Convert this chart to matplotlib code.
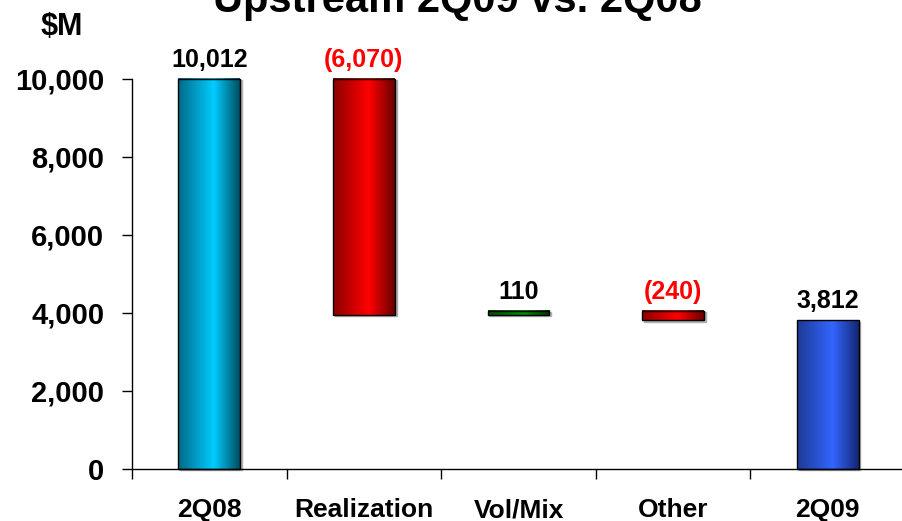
import matplotlib.pyplot as plt
import numpy as np
from matplotlib.colors import LinearSegmentedColormap
from matplotlib.patches import Rectangle

plt.rcParams["font.family"] = ["Liberation Sans", "DejaVu Sans"]
plt.rcParams["font.weight"] = "bold"

categories = ["2Q08", "Realization", "Vol/Mix", "Other", "2Q09"]
values = [10012, -6070, 110, -240, 3812]
is_total = [True, False, False, False, True]
yticks = [0, 2000, 4000, 6000, 8000, 10000]

# left edge, bright centre, right edge
COLORS = {
    "start": ("#006A88", "#00CCFF", "#004E62"),
    "neg": ("#8C0000", "#FF0000", "#6A0000"),
    "pos": ("#004A00", "#009000", "#003400"),
    "end": ("#1E3A94", "#3366FF", "#132672"),
}


def bar_style(i, v):
    if i == 0:
        return COLORS["start"]
    if is_total[i]:
        return COLORS["end"]
    return COLORS["pos"] if v > 0 else COLORS["neg"]


def fmt(v):
    return f"({abs(v):,})" if v < 0 else f"{v:,}"


fig = plt.figure(figsize=(9.02, 5.21), dpi=100)
W, H = 902, 521
y0_px, y10k_px = 469, 79
per = (y0_px - y10k_px) / 10000
top_val = 10500
ax = fig.add_axes([132 / W, (H - y0_px) / H, 773 / W, (y0_px - (y10k_px - 500 * per)) / H])

width = 0.4
grad = np.linspace(0, 1, 120)[None, :]
running = 0
for i, (cat, v) in enumerate(zip(categories, values)):
    if is_total[i]:
        lo, hi = 0, v
        running = v
    else:
        lo, hi = sorted([running, running + v])
        running += v
    left, bright, right = bar_style(i, v)
    cmap = LinearSegmentedColormap.from_list(f"g{i}", [(0, left), (0.58, bright), (1, right)])
    x0 = i + 0.5 - width / 2
    # faint shadow on the right side
    ax.add_patch(Rectangle((x0 + 0.012, lo - 30), width, hi - lo, color="#b0b0b0",
                           zorder=1, clip_on=False))
    ax.imshow(grad, cmap=cmap, extent=(x0, x0 + width, lo, hi), aspect="auto",
              interpolation="bicubic", zorder=2, clip_on=False)
    ax.add_patch(Rectangle((x0, lo), width, hi - lo, fill=False, edgecolor="black",
                           linewidth=1.0, zorder=3, clip_on=False))
    ax.text(i + 0.5, hi + 180, fmt(v), ha="center", va="bottom", fontsize=18,
            fontweight="bold", color="red" if v < 0 else "black")

ax.set_xlim(0, len(categories))
ax.set_ylim(0, top_val)

for s in ["top", "right"]:
    ax.spines[s].set_visible(False)
ax.spines["left"].set_bounds(0, 10000)
ax.spines["left"].set_linewidth(1.0)
ax.spines["bottom"].set_linewidth(1.0)
ax.spines["bottom"].set_zorder(4)

ax.set_yticks(yticks)
ax.set_yticklabels([f"{t:,}" for t in yticks], fontsize=21, fontweight="bold")
ax.tick_params(axis="y", direction="out", length=7, width=1, pad=13)

ax.set_xticks(np.arange(len(categories) + 1))
ax.set_xticklabels([])
ax.tick_params(axis="x", which="major", direction="out", length=7, width=1)
ax.set_xticks(np.arange(len(categories)) + 0.5, minor=True)
ax.set_xticklabels(categories, minor=True, fontsize=19, fontweight="bold")
ax.tick_params(axis="x", which="minor", length=0, pad=21)

fig.text(62 / W, 1 - 27 / H, "$M", ha="center", va="center", fontsize=22, fontweight="bold")
fig.text(457 / W, 1 - 12 / H, "Upstream 2Q09 vs. 2Q08", ha="center", va="baseline",
         fontsize=30, fontweight="bold")

fig.savefig("out.png", dpi=100)
